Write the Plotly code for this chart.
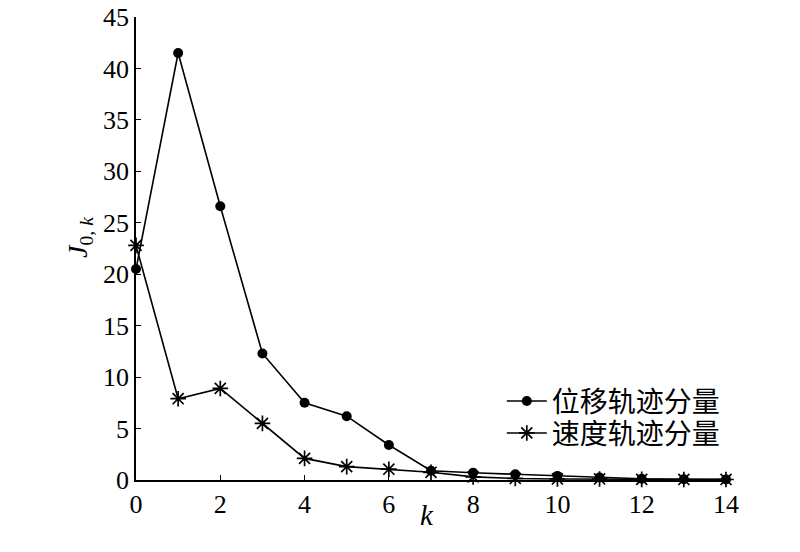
import plotly.graph_objects as go

k = list(range(15))
disp = [20.5, 41.5, 26.6, 12.3, 7.5, 6.2, 3.4, 0.9, 0.7, 0.55, 0.4, 0.25, 0.12, 0.08, 0.06]
vel = [22.8, 7.9, 8.9, 5.5, 2.1, 1.3, 1.05, 0.75, 0.3, 0.15, 0.1, 0.1, 0.06, 0.05, 0.05]
names = ["位移轨迹分量", "速度轨迹分量"]
xticks = [0, 2, 4, 6, 8, 10, 12, 14]
yticks = [0, 5, 10, 15, 20, 25, 30, 35, 40, 45]

FONT = "Liberation Serif, Times New Roman, Noto Sans CJK SC, serif"

fig = go.Figure()
fig.add_trace(go.Scatter(x=k, y=disp, name=names[0], mode="lines+markers",
                         line=dict(color="black", width=1.6),
                         marker=dict(symbol="circle", size=10, color="black"),
                         cliponaxis=False, legend="legend"))
fig.add_trace(go.Scatter(x=k, y=vel, name=names[1], mode="lines+markers",
                         line=dict(color="black", width=1.6),
                         marker=dict(symbol="asterisk-open", size=13, color="black",
                                     line=dict(color="black", width=1.7)),
                         cliponaxis=False, legend="legend2"))

leg_common = dict(xanchor="left", yanchor="middle", bgcolor="rgba(0,0,0,0)",
                  font=dict(family=FONT, size=28), itemwidth=40)

fig.update_layout(
    width=800, height=552,
    margin=dict(l=128, r=82, t=9, b=80),
    paper_bgcolor="white", plot_bgcolor="white",
    font=dict(family=FONT, size=26, color="black"),
    showlegend=True,
    legend=dict(x=0.62, y=0.170, **leg_common),
    legend2=dict(x=0.62, y=0.101, **leg_common),
    annotations=[
        dict(text="<i>k</i>", xref="paper", yref="paper", x=0.494, y=-0.0756,
             xanchor="center", yanchor="middle", showarrow=False,
             font=dict(family=FONT, size=29)),
        dict(text="<i>J</i><sub>0, <i>k</i></sub>", xref="paper", yref="paper",
             x=-0.095, y=0.525, xanchor="center", yanchor="middle", showarrow=False,
             textangle=-90, font=dict(family=FONT, size=28)),
    ],
)
fig.update_xaxes(range=[0, 14], tickvals=xticks, ticktext=[str(v) for v in xticks],
                 showline=True, linecolor="black", linewidth=1.5,
                 ticks="inside", ticklen=5, tickcolor="black", tickwidth=1.2,
                 showgrid=False, zeroline=False, automargin=False,
                 ticklabeloverflow="allow")
fig.update_yaxes(range=[0, 45], tickvals=yticks, ticktext=[str(v) for v in yticks],
                 showline=True, linecolor="black", linewidth=1.5,
                 ticks="inside", ticklen=5, tickcolor="black", tickwidth=1.2,
                 showgrid=False, zeroline=False, automargin=False,
                 ticklabeloverflow="allow")

fig.write_html("out.html")
